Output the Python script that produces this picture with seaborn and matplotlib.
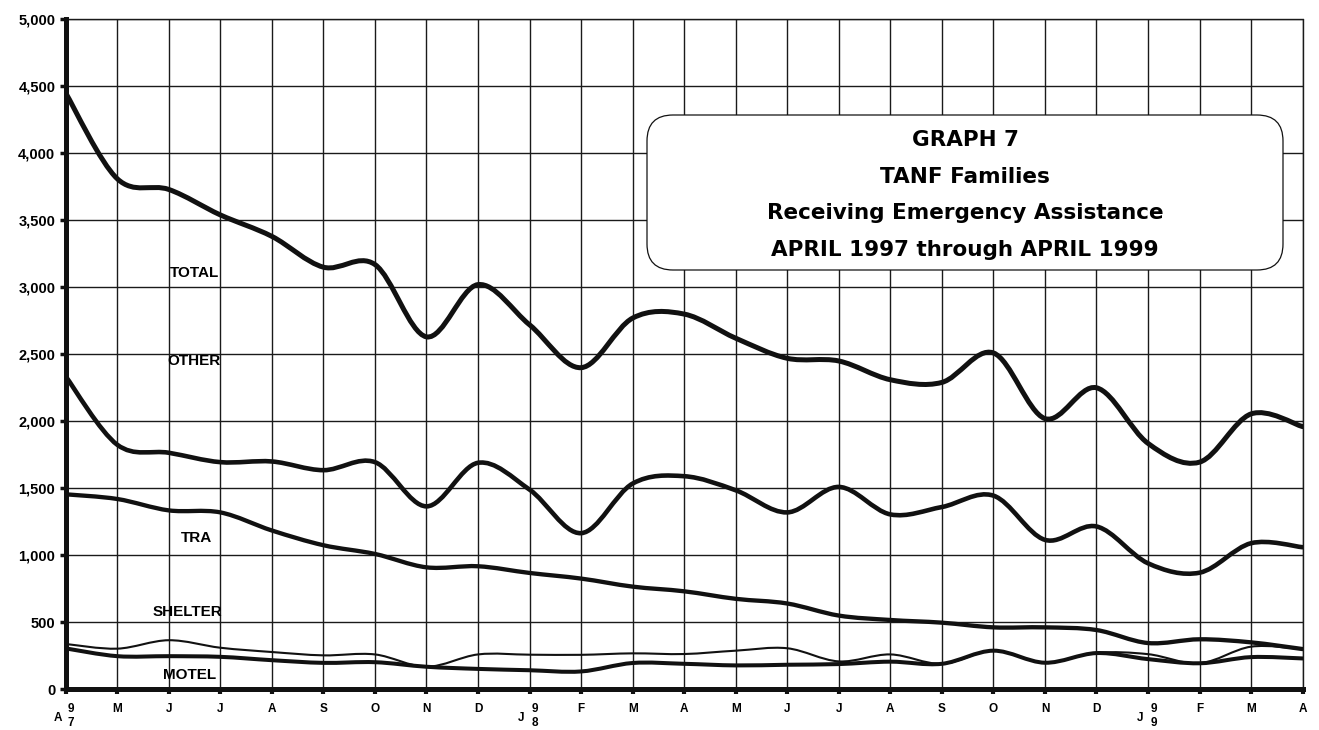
import numpy as np
import pandas as pd
import matplotlib
matplotlib.use("Agg")
import matplotlib.pyplot as plt
import seaborn as sns
from matplotlib.path import Path
from matplotlib.patches import PathPatch, FancyBboxPatch
from matplotlib.transforms import offset_copy

# meses de abril 1997 a abril 1999
meses = ["A", "M", "J", "J", "A", "S", "O", "N", "D", "J", "F", "M",
         "A", "M", "J", "J", "A", "S", "O", "N", "D", "J", "F", "M", "A"]

total = [4450, 3810, 3730, 3540, 3380, 3150, 3170, 2630, 3020, 2720, 2400, 2770,
         2800, 2620, 2470, 2450, 2310, 2290, 2510, 2020, 2250, 1835, 1695, 2055, 1960]
other = [2335, 1825, 1765, 1695, 1700, 1635, 1695, 1365, 1690, 1490, 1165, 1535,
         1590, 1485, 1320, 1510, 1305, 1360, 1445, 1115, 1215, 940, 870, 1090, 1060]
tra = [1455, 1420, 1335, 1320, 1185, 1075, 1010, 910, 918, 868, 826, 766,
       731, 675, 640, 550, 517, 497, 462, 462, 442, 345, 373, 350, 300]
shelter = [338, 303, 366, 310, 278, 253, 260, 168, 260, 258, 257, 268,
           263, 288, 306, 208, 260, 190, 288, 198, 272, 262, 194, 318, 300]
motel = [305, 247, 247, 242, 217, 197, 202, 168, 152, 142, 133, 196,
         190, 178, 183, 188, 206, 190, 288, 198, 270, 225, 194, 240, 230]

series = {"TOTAL": total, "OTHER": other, "TRA": tra, "SHELTER": shelter, "MOTEL": motel}
grosor = {"TOTAL": 3.6, "OTHER": 3.3, "TRA": 3.1, "SHELTER": 1.5, "MOTEL": 2.9}

df = pd.DataFrame([
    {"serie": s, "mes": i, "familias": v}
    for s, vals in series.items() for i, v in enumerate(vals)
])


def suave(x, y):
    # curva suavizada tipo Excel (Catmull-Rom -> Bezier)
    x = np.asarray(x, float)
    y = np.asarray(y, float)
    xp = np.concatenate([[x[0]], x, [x[-1]]])
    yp = np.concatenate([[y[0]], y, [y[-1]]])
    verts = [(x[0], y[0])]
    codes = [Path.MOVETO]
    for i in range(len(x) - 1):
        c1 = (x[i] + (xp[i + 2] - xp[i]) / 6, y[i] + (yp[i + 2] - yp[i]) / 6)
        c2 = (x[i + 1] - (xp[i + 3] - xp[i + 1]) / 6, y[i + 1] - (yp[i + 3] - yp[i + 1]) / 6)
        verts += [c1, c2, (x[i + 1], y[i + 1])]
        codes += [Path.CURVE4] * 3
    return Path(verts, codes)


sns.set_style("white")
plt.rcParams["font.family"] = ["Liberation Sans", "DejaVu Sans"]
plt.rcParams["text.color"] = "black"
plt.rcParams["xtick.color"] = "black"
plt.rcParams["ytick.color"] = "black"

fig = plt.figure(figsize=(13.19, 7.30), dpi=100)
ax = fig.add_axes([0.0498, 0.0558, 0.9378, 0.9178])

for serie, datos in df.groupby("serie", sort=False):
    ax.add_patch(PathPatch(suave(datos["mes"], datos["familias"]), fill=False,
                           edgecolor="#111111", lw=grosor[serie], zorder=3,
                           capstyle="round", joinstyle="round"))

ax.set_xlim(0, len(meses) - 1)
ax.set_ylim(0, 5000)
ax.set_xticks(range(len(meses)))
etiquetas = [m if i not in (0, 9, 21) else "" for i, m in enumerate(meses)]
ax.set_xticklabels(etiquetas, fontsize=8.5, fontweight="bold")
ax.set_yticks(range(0, 5001, 500))
ax.set_yticklabels([f"{v:,}" for v in range(0, 5001, 500)], fontsize=10.5, fontweight="bold")
ax.grid(True, color="#1a1a1a", lw=1.0)
ax.set_axisbelow(True)
ax.axvline(len(meses) - 1, color="#1a1a1a", lw=1.0, clip_on=False, zorder=1)
ax.axhline(5000, color="#1a1a1a", lw=1.0, clip_on=False, zorder=1)
sns.despine(ax=ax)
for lado in ("left", "bottom"):
    ax.spines[lado].set_linewidth(3.6)
    ax.spines[lado].set_color("#111111")
    ax.spines[lado].set_zorder(4)
ax.tick_params(axis="y", length=4, width=2.5, pad=3.5, colors="#111111", labelcolor="black", left=True)
ax.tick_params(axis="x", length=3.5, width=3, pad=6.5, colors="#111111", labelcolor="black", bottom=True)

# etiquetas de año bajo el eje
tx = ax.get_xaxis_transform()
especiales = [(0, "A", "9", "7"), (9, "J", "9", "8"), (21, "J", "9", "9")]
for pos, letra, d1, d2 in especiales:
    for txt, dx, dy in [(letra, -8, -28.5), (d1, 5.5, -19.5), (d2, 5.5, -33.5)]:
        ax.text(pos, 0, txt, transform=offset_copy(tx, fig=fig, x=dx, y=dy, units="dots"),
                ha="center", va="center", fontsize=8.5, fontweight="bold", clip_on=False)

# nombres de las series
nombres = [("TOTAL", 2.49, 3110), ("OTHER", 2.49, 2450), ("TRA", 2.53, 1130),
           ("SHELTER", 2.37, 575), ("MOTEL", 2.41, 110)]
for txt, x, y in nombres:
    ax.text(x, y, txt, ha="center", va="center", fontsize=11, fontweight="bold", zorder=6)

# recuadro del título
caja = FancyBboxPatch((6.47, 4.60), 6.36, 1.55, boxstyle="round,pad=0,rounding_size=0.26",
                      transform=fig.dpi_scale_trans, facecolor="white", edgecolor="#111111",
                      lw=0.9, zorder=7, clip_on=False)
ax.add_patch(caja)
titulo = ["GRAPH 7", "TANF Families", "Receiving Emergency Assistance",
          "APRIL 1997 through APRIL 1999"]
for linea, ypx in zip(titulo, [140, 176.7, 213, 250]):
    fig.text(965 / 1319, 1 - ypx / 730, linea, ha="center", va="center", fontsize=15.5,
             fontweight="bold", family=["DejaVu Sans"], color="black", zorder=8)

fig.savefig("out.png", dpi=100)
